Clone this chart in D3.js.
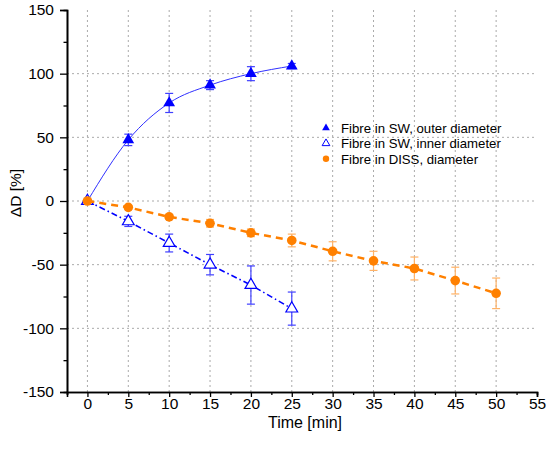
<!DOCTYPE html>
<html>
<head>
<meta charset="utf-8">
<script src="https://cdn.jsdelivr.net/npm/d3@7"></script>
<style>
  body { margin: 0; background: #fff; }
  svg, svg text { font-family: "Liberation Sans", Arial, sans-serif; }
</style>
</head>
<body>
<div id="chart"></div>
<script>
// Datos
const timeSW = [0, 5, 10, 15, 20, 25];
const outerVals = [0, 48, 77, 91, 100, 106];
const outerErr = [0, 4.5, 7.5, 3.5, 5.5, 2];
const innerVals = [0, -16, -33, -50, -66, -84.5];
const innerErr = [0, 4, 7, 8, 15, 13];
const timeDISS = [0, 5, 10, 15, 20, 25, 30, 35, 40, 45, 50];
const dissVals = [0, -5, -12.5, -17.5, -25, -31, -39.5, -47, -53, -62.5, -72.5];
const dissErr = [0, 1.5, 2, 3, 3, 5, 7.5, 7.5, 9, 10.5, 12];

const xTicks = [0, 5, 10, 15, 20, 25, 30, 35, 40, 45, 50, 55];
const yTicks = [-150, -100, -50, 0, 50, 100, 150];
const legendLabels = ["Fibre in SW, outer diameter", "Fibre in SW, inner diameter", "Fibre in DISS, diameter"];

const width = 550, height = 449;
const margin = { top: 10, right: 13, bottom: 57, left: 67 };

const svg = d3.select("#chart").append("svg")
    .attr("width", width)
    .attr("height", height);

const x = d3.scaleLinear().domain([-2.5, 55]).range([margin.left, width - margin.right]);
const y = d3.scaleLinear().domain([-150, 150]).range([height - margin.bottom, margin.top]);

// Rejilla punteada
const grid = svg.append("g").attr("stroke", "#aaa").attr("stroke-width", 1).attr("stroke-dasharray", "2,3");
grid.selectAll(".gx").data(xTicks.filter(d => d < 55)).enter().append("line")
    .attr("x1", d => x(d)).attr("x2", d => x(d))
    .attr("y1", y(-150)).attr("y2", y(150));
grid.selectAll(".gy").data(yTicks.filter(d => d > -150 && d < 150)).enter().append("line")
    .attr("x1", x(-2.5)).attr("x2", x(55))
    .attr("y1", d => y(d)).attr("y2", d => y(d));

// Ejes (guion normal como signo menos)
const fmt = d => String(d);
const xAxis = d3.axisBottom(x).tickValues(xTicks).tickSize(5).tickPadding(1).tickFormat(fmt);
const xMinor = d3.axisBottom(x).tickValues(d3.range(-2.5, 55.1, 5)).tickSize(3).tickFormat("");
const yAxis = d3.axisLeft(y).tickValues(yTicks).tickSize(7).tickPadding(6).tickFormat(fmt);
const yMinor = d3.axisLeft(y).tickValues(d3.range(-125, 150, 50)).tickSize(3.5).tickFormat("");

function styleAxis(g) {
    g.attr("font-family", null).attr("font-size", null);
    g.select(".domain").attr("stroke", "#000").attr("stroke-width", 1.6);
    g.selectAll(".tick line").attr("stroke", "#000").attr("stroke-width", 1.3);
    g.selectAll(".tick text").attr("fill", "#000").style("font-size", "15.5px");
}

svg.append("g").attr("transform", `translate(0,${y(-150)})`).call(xMinor).call(styleAxis);
svg.append("g").attr("transform", `translate(0,${y(-150)})`).call(xAxis).call(styleAxis);
svg.append("g").attr("transform", `translate(${x(-2.5)},0)`).call(yMinor).call(styleAxis);
svg.append("g").attr("transform", `translate(${x(-2.5)},0)`).call(yAxis).call(styleAxis);

// Títulos de ejes
svg.append("text")
    .attr("x", 305)
    .attr("y", 428)
    .attr("text-anchor", "middle")
    .style("font-size", "16px")
    .text("Time [min]");

svg.append("text")
    .attr("transform", "translate(21,193) rotate(-90)")
    .attr("text-anchor", "middle")
    .style("font-size", "15.5px")
    .text("ΔD [%]");

// Función para barras de error
function errorBars(xs, vals, errs, color) {
    const g = svg.append("g").attr("stroke", color).attr("stroke-width", 1.2);
    const data = xs.map((t, i) => ({ t, v: vals[i], e: errs[i] })).filter(d => d.e > 0);
    g.selectAll(".v").data(data).enter().append("line")
        .attr("x1", d => x(d.t)).attr("x2", d => x(d.t))
        .attr("y1", d => y(d.v + d.e)).attr("y2", d => y(d.v - d.e));
    [1, -1].forEach(s => {
        g.selectAll(".c" + s).data(data).enter().append("line")
            .attr("x1", d => x(d.t) - 4).attr("x2", d => x(d.t) + 4)
            .attr("y1", d => y(d.v + s * d.e)).attr("y2", d => y(d.v + s * d.e));
    });
}

const lineGen = (xs, curve) => d3.line()
    .x((d, i) => x(xs[i]))
    .y(d => y(d))
    .curve(curve);

// Serie: diámetro exterior
svg.append("path").datum(outerVals)
    .attr("fill", "none").attr("stroke", "#3030ff").attr("stroke-width", 1)
    .attr("d", lineGen(timeSW, d3.curveMonotoneX));
errorBars(timeSW, outerVals, outerErr, "#4040ff");
svg.append("g").selectAll("path").data(outerVals).enter().append("path")
    .attr("transform", (d, i) => `translate(${x(timeSW[i])},${y(d)})`)
    .attr("d", d3.symbol(d3.symbolTriangle, 60))
    .attr("fill", "#0000ff");

// Serie: diámetro interior
svg.append("path").datum(innerVals)
    .attr("fill", "none").attr("stroke", "#0000ff").attr("stroke-width", 1.6)
    .attr("stroke-dasharray", "6,3,1.5,3")
    .attr("d", lineGen(timeSW, d3.curveLinear));
errorBars(timeSW, innerVals, innerErr, "#4040ff");
svg.append("g").selectAll("path").data(innerVals).enter().append("path")
    .attr("transform", (d, i) => `translate(${x(timeSW[i])},${y(d)})`)
    .attr("d", d3.symbol(d3.symbolTriangle, 60))
    .attr("fill", "#fff").attr("stroke", "#0000ff").attr("stroke-width", 1.2);

// Serie: DISS
svg.append("path").datum(dissVals)
    .attr("fill", "none").attr("stroke", "#ff8000").attr("stroke-width", 2.5)
    .attr("stroke-dasharray", "7,5")
    .attr("d", lineGen(timeDISS, d3.curveLinear));
errorBars(timeDISS, dissVals, dissErr, "#ffb266");
svg.append("g").selectAll("circle").data(dissVals).enter().append("circle")
    .attr("cx", (d, i) => x(timeDISS[i]))
    .attr("cy", d => y(d))
    .attr("r", 4.8)
    .attr("fill", "#ff8000");

// Leyenda
const legend = svg.append("g").attr("transform", "translate(326,128)");
const symbols = [
    g => g.append("path").attr("d", d3.symbol(d3.symbolTriangle, 26)).attr("fill", "#0000ff"),
    g => g.append("path").attr("d", d3.symbol(d3.symbolTriangle, 26)).attr("fill", "#fff").attr("stroke", "#0000ff").attr("stroke-width", 1),
    g => g.append("circle").attr("r", 3.2).attr("fill", "#ff8000")
];
legendLabels.forEach((label, i) => {
    const row = legend.append("g").attr("transform", `translate(0,${i * 15.4})`);
    symbols[i](row);
    row.append("text")
        .attr("x", 15)
        .attr("y", 4.7)
        .style("font-size", "13.2px")
        .text(label);
});
</script>
</body>
</html>
